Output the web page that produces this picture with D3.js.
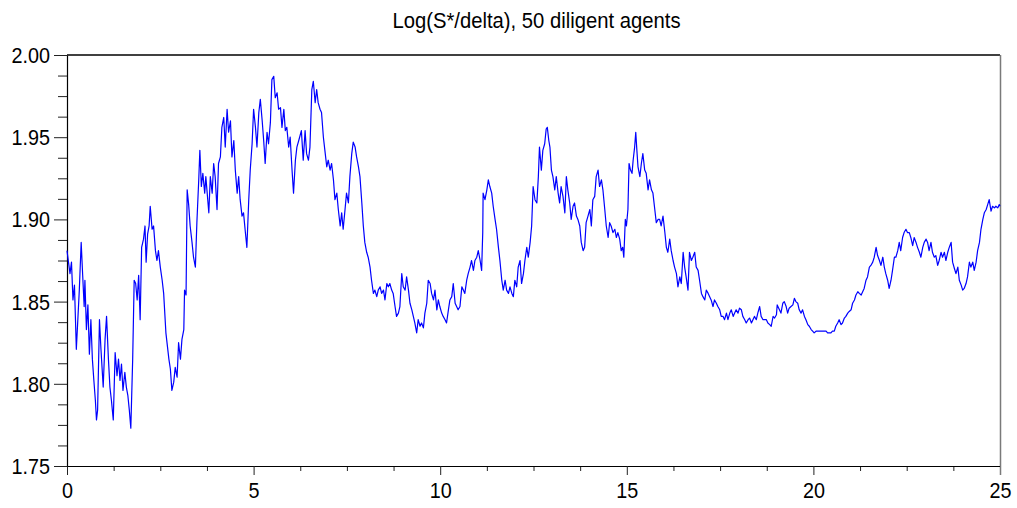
<!DOCTYPE html>
<html>
<head>
<meta charset="utf-8">
<script src="https://cdn.jsdelivr.net/npm/d3@7"></script>
<style>
  html, body { margin: 0; padding: 0; background: #fff; }
  svg { display: block; }
  text { font-family: "Liberation Sans", Arial, Helvetica, sans-serif; fill: #000; }
</style>
</head>
<body>
<svg id="chart" width="1017" height="508"></svg>
<script>
const chartTitle = "Log(S*/delta), 50 diligent agents";
const xTicks = [0, 5, 10, 15, 20, 25];
const yTicks = [1.75, 1.80, 1.85, 1.90, 1.95, 2.00];
const xDomain = [0, 25];
const yDomain = [1.75, 2.00];

const times = [
  0.00,0.04,0.08,0.12,0.16,0.20,0.25,0.29,0.33,0.38,0.42,0.46,0.48,0.52,0.56,0.60,0.64,0.68,0.72,0.76,
  0.79,0.82,0.87,0.91,0.97,1.02,1.06,1.11,1.15,1.19,1.24,1.29,1.34,1.38,1.42,1.46,1.50,1.55,1.59,1.63,
  1.67,1.71,1.76,1.80,1.84,1.88,1.92,1.96,2.00,2.05,2.09,2.12,2.16,2.20,2.23,2.28,2.32,2.37,2.41,2.45,
  2.50,2.55,2.59,2.65,2.73,2.77,2.81,2.86,2.90,2.95,2.99,3.04,3.08,3.13,3.15,3.19,3.22,3.26,3.30,3.35,
  3.39,3.44,3.48,3.53,3.56,3.60,3.64,3.69,3.72,3.80,3.84,3.89,3.93,3.97,4.02,4.06,4.11,4.15,4.20,4.24,
  4.29,4.33,4.38,4.42,4.47,4.51,4.56,4.60,4.64,4.69,4.73,4.78,4.82,4.87,4.91,4.96,5.00,5.05,5.09,5.14,
  5.18,5.23,5.27,5.31,5.36,5.40,5.45,5.49,5.54,5.58,5.63,5.67,5.72,5.76,5.81,5.85,5.89,5.94,5.98,6.03,
  6.07,6.12,6.16,6.21,6.28,
  6.33,6.38,6.42,6.47,6.51,6.56,6.60,6.65,6.69,6.73,6.78,6.82,6.87,6.91,6.96,7.00,7.05,7.09,7.14,7.18,
  7.23,7.27,7.32,7.36,7.40,7.45,7.49,7.54,7.58,7.63,7.67,7.72,7.76,7.81,7.85,7.90,7.94,7.98,8.03,8.07,
  8.12,8.16,8.21,8.25,8.30,8.34,8.39,8.43,8.48,8.52,8.57,8.61,8.65,8.70,8.74,8.79,8.83,8.88,8.92,8.97,
  9.01,9.06,9.10,9.15,9.19,9.24,9.28,9.32,9.37,9.41,9.46,9.50,9.55,9.59,9.64,9.68,9.73,9.77,9.82,9.86,
  9.91,9.95,9.99,10.04,10.08,10.13,10.17,10.22,10.26,10.31,10.35,10.40,10.44,10.48,10.53,10.58,10.62,10.66,10.71,10.75,
  10.80,10.84,10.89,10.93,10.98,11.02,11.07,11.11,11.14,11.15,11.20,11.25,11.29,11.33,11.38,11.42,11.47,11.51,11.56,11.60,
  11.65,11.69,11.74,11.78,11.83,11.87,11.92,11.96,12.00,12.05,12.09,12.14,12.18,12.23,12.27,12.32,12.36,12.41,12.45,12.49,
  12.54,12.59,12.63,12.66,
  12.71,12.75,12.80,12.84,12.87,12.91,12.94,12.98,13.02,13.07,13.11,13.16,13.20,13.24,13.29,13.34,13.38,13.42,13.47,13.51,
  13.56,13.60,13.65,13.69,13.74,13.78,13.83,13.87,13.91,13.96,14.01,14.05,14.09,14.14,14.18,14.23,14.27,14.32,14.36,14.41,
  14.45,14.50,14.54,14.58,14.63,14.68,14.72,14.76,14.81,14.85,14.89,14.92,14.96,14.99,15.03,15.06,15.10,15.14,15.17,15.21,
  15.24,15.27,15.30,15.35,15.39,15.43,15.48,15.52,15.57,15.61,15.66,15.70,15.75,15.79,15.84,15.88,15.92,15.97,16.02,16.06,
  16.10,16.15,16.19,16.24,16.28,16.33,16.37,16.42,16.46,16.51,16.55,16.59,16.64,16.68,16.73,16.77,16.82,16.86,16.91,16.95,
  17.00,17.04,17.09,17.13,17.18,17.22,17.26,17.31,17.35,17.40,17.44,17.49,17.53,17.58,17.62,17.67,17.71,17.76,17.80,17.85,
  17.89,17.93,17.98,18.02,18.07,18.11,18.16,18.20,18.25,18.29,18.34,18.38,18.42,18.47,18.51,18.56,18.60,18.65,18.69,18.74,
  18.78,18.83,18.87,18.92,18.96,19.01,19.03,
  19.09,19.13,19.18,19.22,19.27,19.31,19.35,19.40,19.45,19.49,19.53,19.58,19.62,19.67,19.71,19.76,19.80,19.85,19.89,19.94,
  19.98,20.02,20.07,20.11,20.16,20.20,20.25,20.29,20.34,20.38,20.42,20.47,20.51,20.56,20.60,20.65,20.69,20.74,20.78,20.83,
  20.87,20.92,20.96,21.01,21.05,21.10,21.14,21.19,21.23,21.28,21.32,21.36,21.41,21.45,21.50,21.54,21.59,21.63,21.68,21.72,
  21.77,21.81,21.86,21.90,21.94,21.99,22.03,22.08,22.12,22.17,22.21,22.26,22.30,22.34,22.39,22.43,22.48,22.52,22.57,22.61,
  22.66,22.70,22.75,22.79,22.84,22.88,22.93,22.97,23.02,23.06,23.10,23.15,23.19,23.24,23.28,23.33,23.37,23.42,23.46,23.51,
  23.55,23.60,23.64,23.69,23.73,23.78,23.82,23.87,23.91,23.96,24.00,24.04,24.09,24.13,24.18,24.22,24.27,24.31,24.36,24.40,
  24.45,24.49,24.54,24.58,24.63,24.67,24.71,24.76,24.80,24.85,24.89,24.94,24.98,25.00
];

const logValues = [
  1.881,1.874,1.867,1.874,1.851,1.860,1.821,1.839,1.857,1.886,1.866,1.847,1.863,1.833,1.848,1.818,1.839,1.815,1.802,1.790,
  1.778,1.784,1.839,1.821,1.798,1.827,1.841,1.815,1.798,1.790,1.778,1.819,1.805,1.815,1.802,1.812,1.796,1.807,1.798,1.793,
  1.784,1.773,1.815,1.863,1.861,1.851,1.866,1.839,1.883,1.888,1.896,1.874,1.891,1.896,1.908,1.894,1.896,1.881,1.875,1.881,
  1.871,1.863,1.855,1.831,1.815,1.809,1.796,1.801,1.810,1.804,1.825,1.815,1.827,1.833,1.857,1.854,1.918,1.909,1.896,1.886,
  1.877,1.871,1.898,1.924,1.942,1.920,1.928,1.916,1.926,1.904,1.926,1.916,1.934,1.926,1.906,1.934,1.938,1.956,1.962,1.944,
  1.967,1.953,1.960,1.938,1.948,1.930,1.916,1.926,1.912,1.902,1.904,1.892,1.883,1.912,1.930,1.946,1.967,1.956,1.944,1.965,
  1.973,1.960,1.948,1.934,1.953,1.946,1.959,1.985,1.987,1.974,1.977,1.967,1.968,1.956,1.967,1.954,1.956,1.944,1.950,1.930,
  1.916,1.936,1.944,1.948,1.954,
  1.936,1.954,1.940,1.936,1.944,1.979,1.984,1.971,1.979,1.971,1.967,1.965,1.950,1.942,1.932,1.936,1.930,1.934,1.924,1.912,
  1.916,1.906,1.896,1.904,1.894,1.906,1.916,1.910,1.926,1.940,1.947,1.944,1.938,1.932,1.926,1.910,1.896,1.886,1.880,1.877,
  1.871,1.863,1.855,1.857,1.853,1.857,1.859,1.855,1.857,1.851,1.861,1.859,1.861,1.857,1.855,1.847,1.841,1.843,1.847,1.867,
  1.859,1.857,1.865,1.857,1.849,1.845,1.841,1.837,1.831,1.839,1.835,1.837,1.834,1.843,1.849,1.863,1.861,1.855,1.851,1.857,
  1.845,1.851,1.847,1.843,1.841,1.839,1.837,1.845,1.851,1.853,1.861,1.849,1.847,1.845,1.847,1.859,1.857,1.855,1.863,1.867,
  1.871,1.875,1.869,1.875,1.877,1.881,1.875,1.869,1.892,1.916,1.912,1.918,1.924,1.920,1.916,1.908,1.900,1.894,1.883,1.875,
  1.863,1.857,1.863,1.857,1.855,1.859,1.855,1.853,1.863,1.859,1.871,1.875,1.861,1.867,1.875,1.883,1.877,1.886,1.896,1.920,
  1.912,1.910,1.926,1.944,
  1.930,1.942,1.946,1.955,1.956,1.948,1.944,1.930,1.926,1.918,1.926,1.916,1.910,1.920,1.914,1.904,1.926,1.918,1.910,1.900,
  1.908,1.910,1.902,1.900,1.896,1.886,1.881,1.883,1.898,1.902,1.906,1.896,1.912,1.914,1.926,1.930,1.920,1.924,1.918,1.906,
  1.896,1.889,1.898,1.896,1.892,1.894,1.889,1.892,1.888,1.881,1.883,1.877,1.900,1.896,1.906,1.934,1.930,1.928,1.936,1.944,
  1.953,1.942,1.932,1.926,1.934,1.940,1.930,1.928,1.918,1.924,1.918,1.916,1.906,1.898,1.900,1.900,1.896,1.902,1.892,1.883,
  1.880,1.888,1.881,1.875,1.871,1.867,1.859,1.865,1.861,1.880,1.871,1.865,1.857,1.880,1.875,1.877,1.880,1.871,1.869,1.863,
  1.855,1.853,1.851,1.857,1.855,1.853,1.851,1.847,1.851,1.849,1.847,1.845,1.841,1.841,1.839,1.843,1.839,1.843,1.845,1.841,
  1.843,1.845,1.843,1.846,1.845,1.841,1.839,1.837,1.839,1.840,1.837,1.839,1.841,1.839,1.843,1.847,1.841,1.839,1.839,1.839,
  1.837,1.836,1.835,1.841,1.840,1.842,1.848,
  1.845,1.843,1.849,1.850,1.847,1.843,1.846,1.847,1.848,1.852,1.850,1.849,1.845,1.843,1.845,1.841,1.839,1.836,1.835,1.833,
  1.832,1.831,1.832,1.832,1.832,1.832,1.832,1.832,1.832,1.831,1.831,1.831,1.832,1.832,1.835,1.837,1.839,1.836,1.837,1.840,
  1.841,1.843,1.844,1.845,1.849,1.851,1.854,1.856,1.855,1.854,1.856,1.858,1.863,1.865,1.871,1.872,1.874,1.877,1.883,1.878,
  1.875,1.872,1.877,1.871,1.867,1.863,1.858,1.863,1.869,1.877,1.877,1.881,1.886,1.881,1.889,1.892,1.894,1.892,1.892,1.889,
  1.884,1.889,1.886,1.883,1.880,1.877,1.883,1.886,1.888,1.886,1.881,1.886,1.880,1.877,1.878,1.872,1.875,1.880,1.877,1.880,
  1.875,1.880,1.883,1.886,1.874,1.870,1.867,1.871,1.863,1.860,1.857,1.858,1.861,1.865,1.874,1.871,1.874,1.869,1.874,1.881,
  1.886,1.894,1.900,1.904,1.906,1.909,1.912,1.905,1.908,1.907,1.908,1.907,1.909,1.908
];

const series = times.map((t, i) => ({ t: t, v: logValues[i] }));

const svg = d3.select("#chart");
const pLeft = 67, pRight = 1000, pTop = 55, pBottom = 466;

const x = d3.scaleLinear().domain(xDomain).range([pLeft, pRight]);
const y = d3.scaleLinear().domain(yDomain).range([pBottom, pTop]);

const FS = 22, SX = 0.9;

// minor ticks (3 between each pair of majors)
const xMinor = [];
for (let i = 0; i < xTicks.length - 1; i++) {
  const a = xTicks[i], b = xTicks[i + 1];
  for (let k = 1; k < 4; k++) xMinor.push(a + (b - a) * k / 4);
}
const yMinor = [];
for (let i = 0; i < yTicks.length - 1; i++) {
  const a = yTicks[i], b = yTicks[i + 1];
  for (let k = 1; k < 4; k++) yMinor.push(a + (b - a) * k / 4);
}

// top border
svg.append("line")
  .attr("x1", pLeft).attr("x2", pRight)
  .attr("y1", pTop).attr("y2", pTop)
  .attr("stroke", "#000").attr("stroke-width", 1.5);

// right border
svg.append("line")
  .attr("x1", pRight + 0.5).attr("x2", pRight + 0.5)
  .attr("y1", pTop).attr("y2", pBottom + 9)
  .attr("stroke", "#7a7a7a").attr("stroke-width", 1.5);

// x axis minor
svg.append("g")
  .attr("transform", `translate(0,${pBottom})`)
  .call(d3.axisBottom(x).tickValues(xMinor).tickSize(5).tickSizeOuter(0).tickFormat(""))
  .call(g => g.select(".domain").remove())
  .call(g => g.selectAll("line").attr("stroke", "#222"));

// x axis major
const gx = svg.append("g")
  .attr("transform", `translate(0,${pBottom})`)
  .call(d3.axisBottom(x).tickValues(xTicks).tickSize(9).tickSizeOuter(0).tickPadding(7).tickFormat(d3.format("d")))
  .call(g => g.select(".domain").attr("stroke", "#000").attr("stroke-width", 1.2))
  .call(g => g.selectAll("line").attr("stroke", "#222"));
gx.selectAll("text")
  .style("font-size", FS + "px")
  .attr("fill", "#000")
  .attr("transform", `scale(${SX},1)`);
gx.selectAll(".tick").filter(d => d === 25).select("line").attr("stroke", "#7a7a7a");

// y axis minor
svg.append("g")
  .attr("transform", `translate(${pLeft},0)`)
  .call(d3.axisLeft(y).tickValues(yMinor).tickSize(9).tickSizeOuter(0).tickFormat(""))
  .call(g => g.select(".domain").remove())
  .call(g => g.selectAll("line").attr("stroke", "#222"));

// y axis major
const gy = svg.append("g")
  .attr("transform", `translate(${pLeft},0)`)
  .call(d3.axisLeft(y).tickValues(yTicks).tickSize(13).tickSizeOuter(0).tickFormat(d3.format(".2f")))
  .call(g => g.select(".domain").attr("stroke", "#000").attr("stroke-width", 1.2))
  .call(g => g.selectAll("line").attr("stroke", "#222"));
gy.selectAll("text")
  .style("font-size", FS + "px")
  .attr("fill", "#000")
  .attr("x", -17 / SX)
  .attr("dy", "0.34em")
  .attr("transform", `scale(${SX},1)`);

// title
svg.append("text")
  .attr("transform", `translate(536.5,28) scale(${SX},1)`)
  .attr("text-anchor", "middle")
  .style("font-size", "22.5px")
  .text(chartTitle);

// data line
const line = d3.line()
  .x(d => x(d.t))
  .y(d => y(d.v));

svg.append("path")
  .datum(series)
  .attr("fill", "none")
  .attr("stroke", "#0000ff")
  .attr("stroke-width", 1.2)
  .attr("stroke-linejoin", "round")
  .attr("d", line);
</script>
</body>
</html>
